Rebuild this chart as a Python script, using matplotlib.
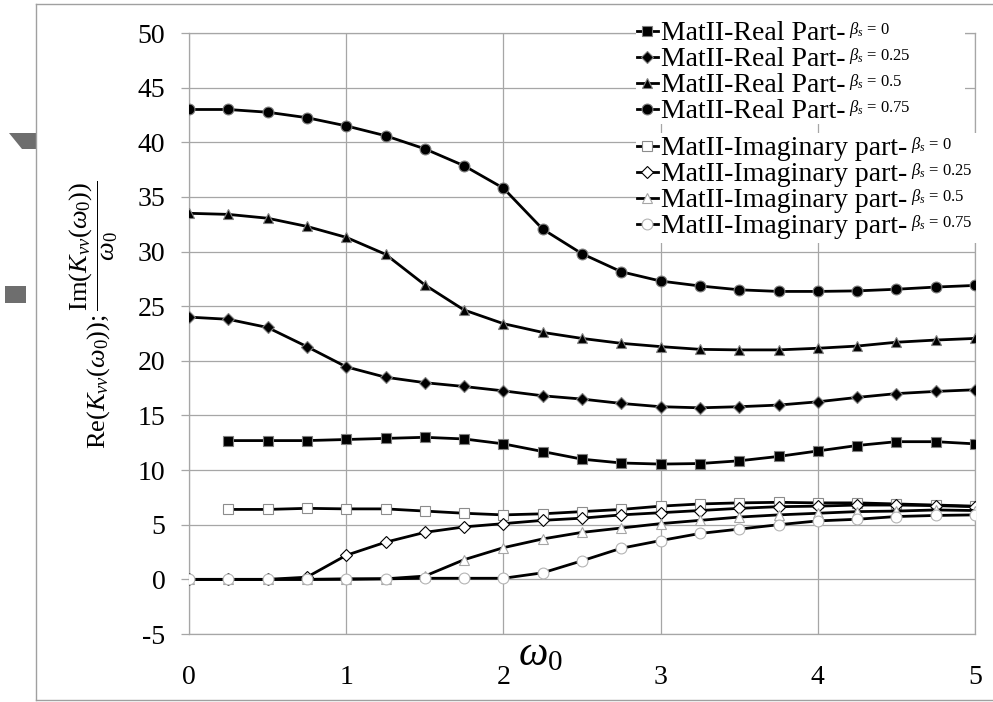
import numpy as np
import matplotlib
matplotlib.use('Agg')
import matplotlib.pyplot as plt
from matplotlib.lines import Line2D
from matplotlib.patches import Polygon, Rectangle

plt.rcParams['font.family'] = ['Liberation Serif', 'DejaVu Serif']
plt.rcParams['mathtext.fontset'] = 'custom'
plt.rcParams['mathtext.rm'] = 'Liberation Serif'
plt.rcParams['mathtext.it'] = 'Liberation Serif:italic'
plt.rcParams['axes.unicode_minus'] = False

# frequency grid
omega0 = [0, 0.25, 0.5, 0.75, 1, 1.25, 1.5, 1.75, 2, 2.25, 2.5,
          2.75, 3, 3.25, 3.5, 3.75, 4, 4.25, 4.5, 4.75, 5]

# real parts
re_b000 = [np.nan, 12.7, 12.7, 12.7, 12.8, 12.9, 13.0, 12.85, 12.4, 11.7, 11.0,
           10.65, 10.55, 10.6, 10.85, 11.25, 11.75, 12.25, 12.6, 12.6, 12.4]
re_b025 = [24.0, 23.8, 23.05, 21.3, 19.45, 18.5, 18.0, 17.65, 17.25, 16.8, 16.5,
           16.1, 15.8, 15.7, 15.8, 15.95, 16.25, 16.65, 17.0, 17.2, 17.35]
re_b050 = [33.5, 33.4, 33.05, 32.3, 31.3, 29.75, 26.95, 24.65, 23.4, 22.6, 22.05,
           21.6, 21.3, 21.05, 21.0, 21.0, 21.15, 21.35, 21.7, 21.9, 22.05]
re_b075 = [43.0, 43.0, 42.75, 42.25, 41.5, 40.6, 39.4, 37.85, 35.8, 32.05, 29.8,
           28.15, 27.3, 26.85, 26.5, 26.35, 26.35, 26.4, 26.55, 26.75, 26.9]

# imaginary parts divided by omega0
im_b000 = [np.nan, 6.4, 6.4, 6.5, 6.45, 6.45, 6.25, 6.05, 5.9, 6.0, 6.2,
           6.4, 6.7, 6.9, 7.0, 7.05, 7.0, 7.0, 6.9, 6.8, 6.7]
im_b025 = [0, 0, 0, 0.2, 2.2, 3.4, 4.3, 4.8, 5.1, 5.4, 5.6,
           5.9, 6.1, 6.3, 6.5, 6.65, 6.7, 6.8, 6.8, 6.75, 6.65]
im_b050 = [0, 0, 0, 0, 0, 0.05, 0.3, 1.8, 2.9, 3.7, 4.3,
           4.7, 5.1, 5.4, 5.7, 5.9, 6.05, 6.2, 6.25, 6.35, 6.3]
im_b075 = [0, 0, 0, 0, 0.05, 0.05, 0.1, 0.1, 0.1, 0.6, 1.7,
           2.85, 3.55, 4.2, 4.6, 5.0, 5.35, 5.5, 5.75, 5.85, 5.9]

beta_labels = ['0', '0.25', '0.5', '0.75']
x_ticks = [0, 1, 2, 3, 4, 5]
y_ticks = [-5, 0, 5, 10, 15, 20, 25, 30, 35, 40, 45, 50]

W, H = 993, 702
fig = plt.figure(figsize=(W / 100, H / 100), dpi=100)
ax = fig.add_axes([189 / W, 1 - 634 / H, (975 - 189) / W, (634 - 33) / H])

grid_c = '#a6a6a6'
series = [
    (re_b000, 's', 'black', '#7f7f7f', 7.0),
    (re_b025, 'D', 'black', '#7f7f7f', 6.0),
    (re_b050, '^', 'black', '#7f7f7f', 7.8),
    (re_b075, 'o', 'black', '#7f7f7f', 7.8),
    (im_b000, 's', 'white', '#8c8c8c', 7.0),
    (im_b025, 'D', 'white', 'black', 6.0),
    (im_b050, '^', 'white', '#a6a6a6', 7.8),
    (im_b075, 'o', 'white', '#b4b4b4', 7.8),
]
handles = []
for vals, mk, fc, ec, ms in series:
    ln, = ax.plot(omega0, vals, color='black', lw=2.0, marker=mk, ms=ms,
                  markerfacecolor=fc, markeredgecolor=ec, markeredgewidth=0.8,
                  solid_joinstyle='round', zorder=3)
    handles.append(ln)

ax.set_xlim(0, 5)
ax.set_ylim(-5, 50)
ax.set_xticks(x_ticks)
ax.set_yticks(y_ticks)
ax.grid(color=grid_c, lw=0.9)
ax.set_axisbelow(True)
for sp in ax.spines.values():
    sp.set_color(grid_c)
    sp.set_linewidth(0.9)
ax.tick_params(axis='y', length=6, color=grid_c, width=0.9, pad=11, labelsize=20)
ax.tick_params(axis='x', length=0, pad=22, labelsize=20)

ax.set_ylabel(r'$\mathrm{Re}(K_{vv}(\omega_0));\dfrac{\mathrm{Im}(K_{vv}(\omega_0))}{\omega_0}$',
              fontsize=19)
ax.yaxis.set_label_coords(-0.088, 0.531)
ax.text(0.447, -0.035, r'$\omega_0$', transform=ax.transAxes, fontsize=30,
        ha='center', va='center')

# white backing behind the two legend blocks
for x0, y0, x1, y1 in [(636, 12, 965, 124), (636, 133, 980, 243)]:
    ax.add_patch(Rectangle((x0 / W, 1 - y1 / H), (x1 - x0) / W, (y1 - y0) / H,
                           transform=fig.transFigure, facecolor='white',
                           edgecolor='none', zorder=4, clip_on=False))

leg_kw = dict(loc='upper left', bbox_transform=fig.transFigure, fontsize=20,
              frameon=False, borderpad=0, labelspacing=0.02, handlelength=0.75,
              handletextpad=0.1, borderaxespad=0, numpoints=1)
leg_re = ax.legend(handles[:4], ['MatII-Real Part-'] * 4,
                   bbox_to_anchor=(637 / W, 1 - 21 / H), **leg_kw)
leg_re.set_zorder(5)
ax.add_artist(leg_re)
leg_im = ax.legend(handles[4:], ['MatII-Imaginary part-'] * 4,
                   bbox_to_anchor=(637 / W, 1 - 136 / H), **leg_kw)
leg_im.set_zorder(5)

# small beta tags after each legend entry
fig.canvas.draw()
texts = list(leg_re.get_texts()) + list(leg_im.get_texts())
for t, b in zip(texts, beta_labels * 2):
    bb = t.get_window_extent()
    fig.text((bb.x1 + 4) / W, (bb.y0 + 6) / H, r'$\beta_s$ = ' + b, fontsize=12,
             ha='left', va='bottom', zorder=6)

# page border and stray marks on the left margin
border_c = '#a0a0a0'
fig.add_artist(Line2D([36 / W, 36 / W], [1 - 4 / H, 1 - 700 / H],
                      transform=fig.transFigure, color=border_c, lw=1))
fig.add_artist(Line2D([36 / W, 1], [1 - 4 / H, 1 - 4 / H],
                      transform=fig.transFigure, color=border_c, lw=1))
fig.add_artist(Line2D([36 / W, 1], [1 - 700 / H, 1 - 700 / H],
                      transform=fig.transFigure, color=border_c, lw=1))
trap = [(9, 133), (36, 133), (36, 149), (22, 149)]
fig.add_artist(Polygon([(x / W, 1 - y / H) for x, y in trap], closed=True,
                       transform=fig.transFigure, facecolor='#6e6e6e', edgecolor='none'))
fig.add_artist(Rectangle((5 / W, 1 - 303 / H), 21 / W, 17 / H,
                         transform=fig.transFigure, facecolor='#6e6e6e', edgecolor='none'))

fig.savefig('out.png', dpi=100)
